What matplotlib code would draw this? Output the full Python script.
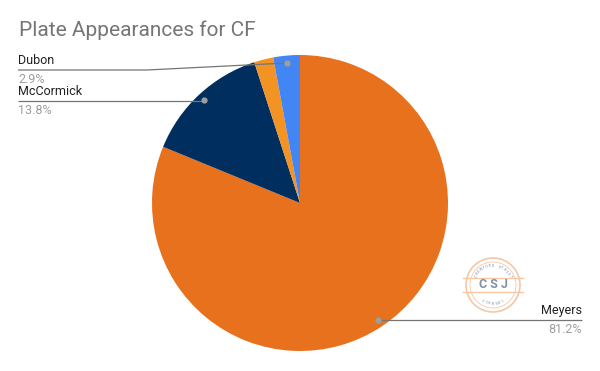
import numpy as np
import matplotlib.pyplot as plt
from matplotlib.patches import Circle

plt.rcParams['font.family'] = ['Roboto', 'DejaVu Sans']

players = ['Meyers', 'McCormick', 'Other', 'Dubon']
share = [81.2, 13.8, 2.1, 2.9]
colors = ['#e8711e', '#002f5f', '#f39323', '#4285f4']
shown = ['Meyers', 'McCormick', 'Dubon']

W, H = 600, 371
fig = plt.figure(figsize=(6, 3.71), dpi=100)
ax = fig.add_axes([0, 0, 1, 1])
ax.set_xlim(0, W)
ax.set_ylim(0, H)
ax.set_aspect('equal')
ax.axis('off')

cx, cy, R = 300, H - 203, 148
wedges, _ = ax.pie(share, colors=colors, startangle=90, counterclock=False,
                   center=(cx, cy), radius=R, wedgeprops=dict(linewidth=0))
ax.set_xlim(0, W)
ax.set_ylim(0, H)

ax.text(19, H - 30, 'Plate Appearances for CF', fontsize=15, color='#757575',
        va='center', ha='left')

# label anchors (pixel coords from top)
layout = {
    'Dubon': dict(x=18, y=70, ha='left', bend=147),
    'McCormick': dict(x=18, y=101, ha='left', bend=None),
    'Meyers': dict(x=582, y=320, ha='right', bend=None),
}
for w, name, pct in zip(wedges, players, share):
    if name not in shown:
        continue
    mid = np.deg2rad((w.theta1 + w.theta2) / 2)
    dx = cx + 0.95 * R * np.cos(mid)
    dy = cy + 0.95 * R * np.sin(mid)
    L = layout[name]
    ly = H - L['y']
    if L['bend'] is not None:
        xs = [dx, L['bend'], L['x']]
        ys = [dy, ly, ly]
    else:
        xs = [dx, L['x']]
        ys = [ly, ly]
    ax.plot(xs, ys, color='#757575', lw=0.9, solid_capstyle='butt')
    ax.plot(dx, dy, 'o', color='#9e9e9e', ms=3.5)
    ax.text(L['x'], ly + 3, name, fontsize=9, color='#212121',
            ha=L['ha'], va='bottom')
    ax.text(L['x'], ly - 3, f'{pct:.1f}%', fontsize=9, color='#9e9e9e',
            ha=L['ha'], va='top')

# faint CSJ watermark
lx, ly0, lr = 493, H - 285, 27
ring = '#f6c7a4'
ax.add_patch(Circle((lx, ly0), lr, fill=False, ec=ring, lw=1.2))
ax.add_patch(Circle((lx, ly0), lr - 4, fill=False, ec=ring, lw=0.6))
for off in (7, -7):
    ax.plot([lx - lr - 3, lx + lr + 3], [ly0 + off, ly0 + off], color=ring, lw=1.0)
ax.text(lx, ly0, 'C S J', fontsize=9, fontweight='bold', color='#7f8fa6',
        ha='center', va='center')
for word, base, sgn in (('CRAWFORD STREET', 90, 1), ('JOURNAL', -90, -1)):
    n = len(word)
    step = 9 if sgn > 0 else 11
    for i, ch in enumerate(word):
        ang = base - sgn * (i - (n - 1) / 2) * step
        a = np.deg2rad(ang)
        ax.text(lx + (lr - 8) * np.cos(a), ly0 + (lr - 8) * np.sin(a), ch,
                fontsize=2.6, color='#7f8fa6', ha='center', va='center',
                rotation=ang - 90 if sgn > 0 else ang + 90)

fig.savefig('out.png', dpi=100)
